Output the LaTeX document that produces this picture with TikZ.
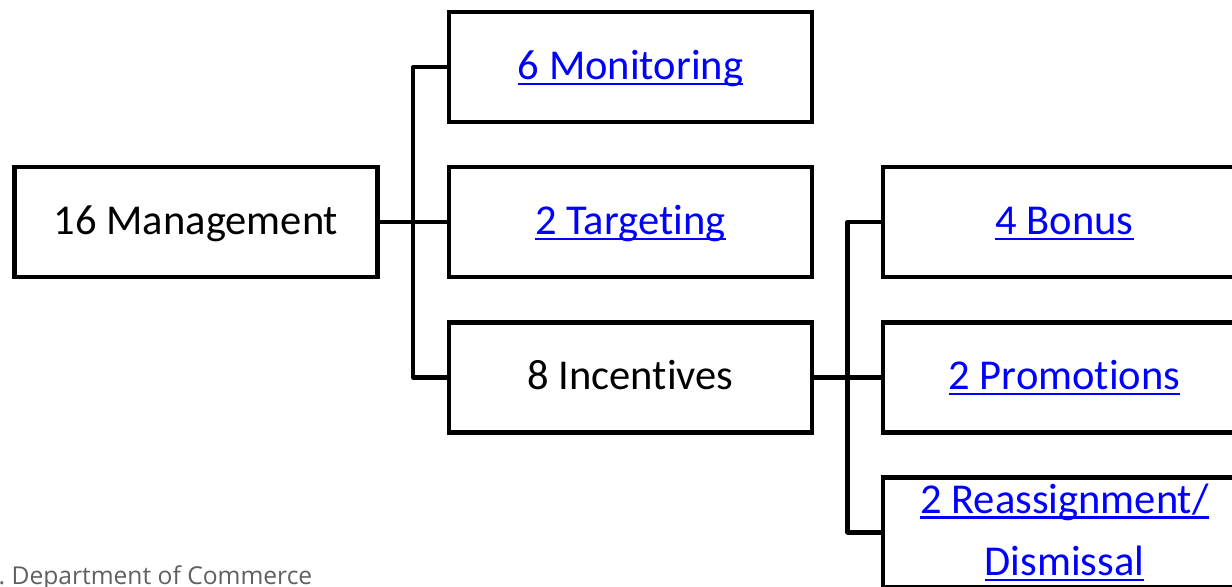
\documentclass[tikz,border=0pt]{standalone}
\usepackage{fontspec}
\setmainfont{Carlito}[Ligatures=NoCommon, RawFeature={-liga;-clig;-calt}]
\newfontfamily\footfont{Open Sans}
\usetikzlibrary{calc}
\definecolor{linkblue}{RGB}{0,0,255}
\definecolor{footgray}{RGB}{96,96,96}
\newsavebox\lnkbox
\newcommand{\lnk}[1]{\textcolor{linkblue}{\sbox\lnkbox{#1}\rlap{\rule[-0.13em]{\wd\lnkbox}{0.05em}}\usebox\lnkbox}}

\begin{document}
\begin{tikzpicture}[
  frame/.style={draw, line width=1.15pt, minimum width=3.63cm, minimum height=1.10cm,
    inner sep=0pt, align=center, font=\fontsize{12.1}{17.9}\selectfont},
  box/.style={frame, text height=0.95em, text depth=0.24em},
  wire/.style={line width=1.15pt, line join=round}]
\useasboundingbox (0,0) rectangle (12.32,-5.87);
\clip (0,0) rectangle (12.32,-5.87);
% first level
\node[box] (mgmt) at (1.96,-2.22) {16 Management};
% second level
\node[box] (mon) at (6.305,-0.67) {\lnk{6 Monitoring}};
\node[box] (tgt) at (6.305,-2.22) {\lnk{2 Targeting}};
\node[box] (inc) at (6.305,-3.775) {8 Incentives};
% third level
\node[box] (bonus) at (10.645,-2.22) {\lnk{4 Bonus}};
\node[box] (promo) at (10.645,-3.775) {\lnk{2 Promotions}};
\node[frame] (reass) at (10.645,-5.325) {\lnk{2 Reassignment/}\\\lnk{Dismissal}};
% connectors
\coordinate (busA) at ($(mgmt.east)!0.5!(tgt.west)$);
\coordinate (busB) at ($(inc.east)!0.5!(promo.west)$);
\draw[wire] (mgmt.east) -- (tgt.west);
\draw[wire] (mon.west) -| (busA) |- (inc.west);
\draw[wire] (inc.east) -- (promo.west);
\draw[wire] (bonus.west) -| (busB) |- (reass.west);
% footer
\node[anchor=base east, inner sep=0pt, text=footgray, font=\footfont\fontsize{7.0}{8}\selectfont] (foot) at (3.13,-5.85) {U.S. Department of Commerce};
\end{tikzpicture}
\end{document}
